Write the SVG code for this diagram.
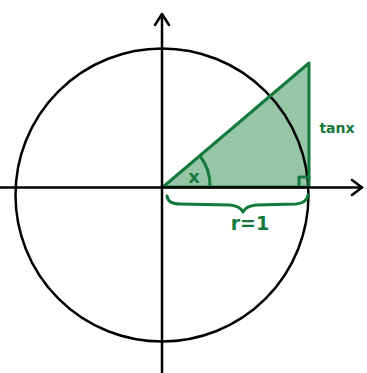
<svg xmlns="http://www.w3.org/2000/svg" width="367" height="373" viewBox="0 0 367 373">
<style>
.ax{stroke:#000;stroke-width:2.5;fill:none;stroke-linecap:round;stroke-linejoin:round}
.g{stroke:#137a3c;stroke-width:3;fill:none;stroke-linecap:round;stroke-linejoin:round}
.t{fill:#137a3c;font-family:"DejaVu Sans",sans-serif;font-weight:bold}
</style>
<rect width="367" height="373" fill="#fff"/>
<g id="triangle-fill">
<path d="M163,187 L309,63 L309,187 Z" fill="#96c6a6" stroke="none"/>
</g>
<g id="circle">
<circle cx="162" cy="195" r="146.5" class="ax"/>
</g>
<g id="triangle">
<path d="M163,187 L309,63 L309,187 Z" class="g"/>
<path d="M299,187 L299,177 L309,177" class="g" stroke-width="2.5"/>
<path d="M200,156 A48,48 0 0 1 210,187" class="g" stroke-width="2.5"/>
</g>
<g id="connectors">
<path d="M162,373 L162,14" class="ax"/>
<path d="M155,25 L162,14 L169,25" class="ax"/>
<path d="M0,187.5 L362,187.5" class="ax"/>
<path d="M352,180 L362,187.5 L352,195" class="ax"/>
<path d="M167,196 Q168,204 180,204 L230,205 Q240,206 243,212 Q246,206 256,205 L296,204 Q307,203 308,195" class="g" stroke-width="2.5"/>
</g>
<g id="labels">
<text x="194" y="183" class="t" font-size="18" text-anchor="middle">x</text>
<text x="337" y="133" class="t" font-size="14" text-anchor="middle">tanx</text>
<text x="250" y="230" class="t" font-size="19" text-anchor="middle">r=1</text>
</g>
</svg>
